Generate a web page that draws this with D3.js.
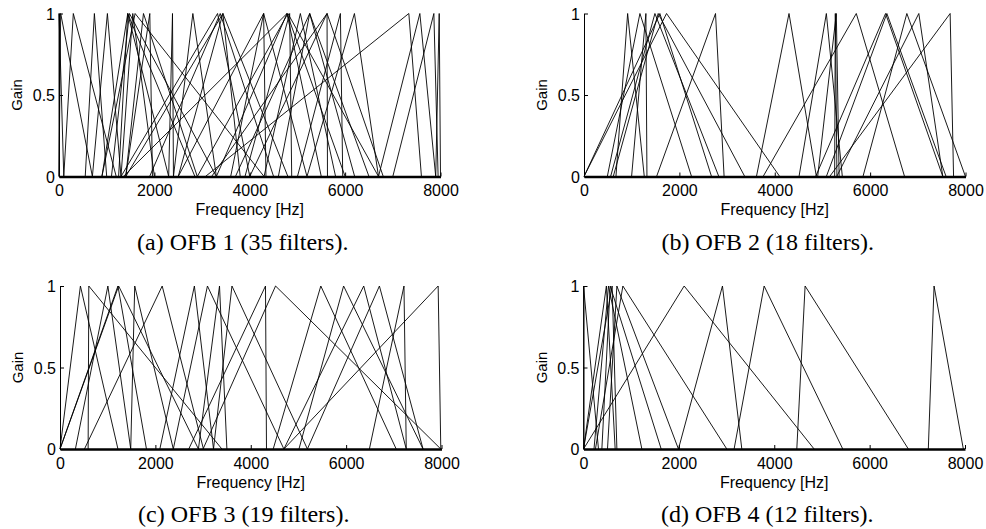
<!DOCTYPE html>
<html>
<head>
<meta charset="utf-8">
<script src="https://cdn.jsdelivr.net/npm/d3@7"></script>
<style>
body { margin: 0; background: #fff; }
svg { display: block; }
.tick text { font-family: "Liberation Sans", Arial, sans-serif; font-size: 16px; fill: #000; }
.lbl { font-family: "Liberation Sans", Arial, sans-serif; fill: #000; }
.cap { font-family: "Liberation Serif", "Times New Roman", serif; font-size: 24px; fill: #000; }
</style>
</head>
<body>
<svg id="chart" width="986" height="529"></svg>
<script>
// each filter: [start Hz, peak Hz, end Hz], gain 1 at the peak
var ofb1 = [
  [0, 0, 100], [0, 35, 700], [100, 300, 1200], [550, 742, 1000], [700, 1015, 1300],
  [1250, 1442, 2850], [1100, 1477, 3300], [1300, 1547, 2000], [900, 1596, 4300],
  [1400, 1771, 2900], [1400, 1904, 1960], [2300, 2380, 2400], [2400, 2807, 3300],
  [1300, 3325, 4000], [1900, 3381, 4500], [1400, 3437, 3800], [2500, 3437, 4800],
  [3600, 4291, 4340], [3300, 4781, 5500], [2900, 4800, 6700], [3900, 4837, 4880],
  [4300, 5061, 5800], [3700, 5257, 6200], [3200, 5621, 5630], [4000, 5621, 6800],
  [5000, 5901, 5950], [5200, 6195, 6700], [3070, 7336, 7600], [6700, 7567, 7900],
  [7000, 7861, 7950], [7900, 7973, 8000], [2500, 4291, 5200], [900, 1442, 2300],
  [4600, 5257, 6500], [1350, 4781, 6000]
];
var ofb2 = [
  [670, 915, 1264], [489, 1173, 2255], [998, 1298, 1320], [558, 1487, 2827],
  [614, 1556, 3371], [0, 1591, 2674], [0, 1731, 4104], [1522, 2758, 2938],
  [3616, 4299, 4873], [4509, 5082, 5417], [5256, 5270, 5304], [4900, 5291, 5350],
  [3756, 5710, 6722], [4858, 6324, 7524], [5082, 6351, 7593], [5850, 6770, 7999],
  [5300, 7021, 7524], [5152, 7678, 7750]
];
var ofb3 = [
  [0, 428, 1215], [590, 604, 3395], [323, 1004, 1483], [0, 1215, 1813], [0, 1230, 2903],
  [1483, 1567, 2376], [513, 2143, 3008], [2094, 2818, 3219], [2376, 3092, 4695],
  [2903, 3345, 3500], [3219, 3606, 5188], [2700, 4309, 4330], [3000, 4520, 7985],
  [4471, 5469, 7050], [5011, 5947, 7613], [4695, 6369, 7261], [5188, 6698, 7613],
  [6488, 7213, 7261], [4695, 7930, 7985]
];
var ofb4 = [
  [0, 0, 314], [0, 480, 664], [220, 524, 1224], [385, 560, 1629], [0, 600, 700],
  [503, 700, 1991], [250, 826, 3005], [0, 2111, 4836], [1991, 2914, 3320],
  [3158, 3788, 5437], [4473, 4647, 6812], [7231, 7351, 7965]
];

var xTicks = [0, 2000, 4000, 6000, 8000];
var yTicks = [0, 0.5, 1];
var captions = ["(a) OFB 1 (35 filters).", "(b) OFB 2 (18 filters).",
                "(c) OFB 3 (19 filters).", "(d) OFB 4 (12 filters)."];

var panels = [
  {filters: ofb1, left: 59,    top: 13.5},
  {filters: ofb2, left: 584,   top: 13.5},
  {filters: ofb3, left: 60,    top: 286},
  {filters: ofb4, left: 583.5, top: 286}
];
var pw = 381.5, ph = 163;

var svg = d3.select("#chart");

panels.forEach(function(p, i) {
  var x = d3.scaleLinear().domain([0, 8000]).range([p.left, p.left + pw]);
  var y = d3.scaleLinear().domain([0, 1]).range([p.top + ph, p.top]);
  var g = svg.append("g");

  var line = d3.line()
    .x(function(d) { return x(d[0]); })
    .y(function(d) { return y(d[1]); });

  g.selectAll("path.filt")
    .data(p.filters)
    .enter()
    .append("path")
    .attr("class", "filt")
    .attr("d", function(f) { return line([[f[0], 0], [f[1], 1], [f[2], 0]]); })
    .attr("fill", "none")
    .attr("stroke", "#000")
    .attr("stroke-width", 0.9);

  var xa = g.append("g")
    .attr("transform", "translate(0," + y(0) + ")")
    .call(d3.axisBottom(x).tickValues(xTicks).tickFormat(d3.format("d"))
      .tickSizeInner(-4).tickSizeOuter(0).tickPadding(8.5));
  xa.select(".domain").attr("stroke", "#000").attr("stroke-width", 2.6);
  xa.selectAll(".tick line").attr("stroke", "#000");

  var ya = g.append("g")
    .attr("transform", "translate(" + x(0) + ",0)")
    .call(d3.axisLeft(y).tickValues(yTicks).tickFormat(function(d) { return String(d); })
      .tickSizeInner(-4).tickSizeOuter(0).tickPadding(4));
  ya.select(".domain").attr("stroke", "#000").attr("stroke-width", 1);
  ya.selectAll(".tick line").attr("stroke", "#000");
  ya.selectAll(".tick text").attr("dy", "0.36em");

  var cx = (x(0) + x(8000)) / 2;
  g.append("text")
    .attr("class", "lbl")
    .attr("transform", "translate(" + (x(0) - 42) + "," + ((y(0) + y(1)) / 2) + ") rotate(-90)")
    .attr("text-anchor", "middle")
    .attr("dy", "0.35em")
    .style("font-size", "15px")
    .text("Gain");

  g.append("text")
    .attr("class", "lbl")
    .attr("x", cx)
    .attr("y", y(0) + 38.5)
    .attr("text-anchor", "middle")
    .style("font-size", "16px")
    .text("Frequency [Hz]");

  g.append("text")
    .attr("class", "cap")
    .attr("x", cx - 7)
    .attr("y", y(0) + 73)
    .attr("text-anchor", "middle")
    .text(captions[i]);
});
</script>
</body>
</html>
